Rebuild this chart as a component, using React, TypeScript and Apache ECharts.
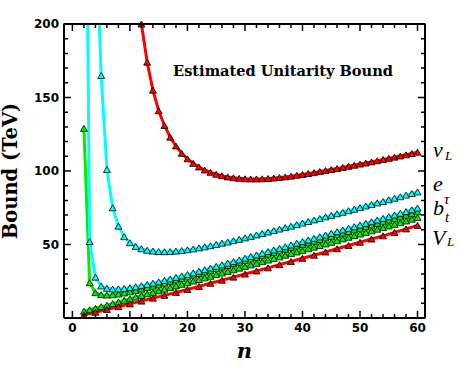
import React, { useEffect, useRef } from "react";
import * as echarts from "echarts";

// ---- data ----
const nuL_n0 = 12;
const nuL = [200, 174, 155, 141, 131, 123, 117, 112, 108.3, 105.2, 102.7, 100.7, 99.1, 97.8, 96.8, 96.0, 95.4, 95.0, 94.7, 94.6, 94.6, 94.7, 94.9, 95.2, 95.6, 96.0, 96.5, 97.1, 97.7, 98.3, 98.9, 99.6, 100.3, 101.0, 101.7, 102.4, 103.2, 103.9, 104.7, 105.4, 106.2, 107.0, 107.8, 108.6, 109.4, 110.2, 111.0, 111.9, 112.8];

const e_lead = [4.68, 200];
const e_n0 = 5;
const eVals = [165, 101, 75, 62.5, 55.3, 51.2, 48.7, 47.1, 46.1, 45.5, 45.2, 45.1, 45.2, 45.5, 45.9, 46.4, 47.0, 47.7, 48.4, 49.2, 50.0, 50.9, 51.7, 52.6, 53.5, 54.5, 55.5, 56.5, 57.5, 58.5, 59.5, 60.5, 61.5, 62.5, 63.5, 64.6, 65.6, 66.7, 67.7, 68.8, 69.8, 70.9, 71.9, 73.0, 74.0, 75.1, 76.2, 77.2, 78.3, 79.3, 80.4, 81.5, 82.5, 83.6, 84.7, 85.8];

const cyanLow_lead = [2.66, 200];
const cyanLow_n0 = 3;
const cyanLow = [52.0, 27.8, 21.8, 20.2, 19.7, 19.8, 20.1, 20.6, 21.3, 22.0, 22.8, 23.7, 24.6, 25.6, 26.6, 27.6, 28.6, 29.6, 30.7, 31.8, 32.9, 34.0, 35.1, 36.2, 37.3, 38.4, 39.5, 40.7, 41.8, 42.9, 44.0, 45.2, 46.3, 47.4, 48.5, 49.7, 50.8, 52.0, 53.1, 54.2, 55.3, 56.5, 57.6, 58.7, 59.9, 61.0, 62.1, 63.3, 64.4, 65.5, 66.7, 67.8, 68.9, 70.1, 71.2, 72.4, 73.6, 74.8];

const greenUp_n0 = 2;
const greenUp = [129, 24.0, 17.2, 15.9, 15.6, 15.8, 16.3, 17.0, 17.8, 18.7, 19.6, 20.6, 21.6, 22.6, 23.7, 24.7, 25.8, 26.9, 28.0, 29.1, 30.2, 31.3, 32.4, 33.5, 34.6, 35.7, 36.8, 37.9, 39.0, 40.1, 41.2, 42.3, 43.4, 44.5, 45.6, 46.7, 47.8, 48.9, 50.0, 51.1, 52.2, 53.3, 54.4, 55.5, 56.6, 57.7, 58.8, 59.9, 61.0, 62.1, 63.2, 64.3, 65.4, 66.5, 67.6, 68.8, 69.9, 71.0, 72.2];

const greenLow_n0 = 2;
const greenLow = [4.6, 5.6, 6.6, 7.7, 8.7, 9.8, 10.9, 12.0, 13.1, 14.2, 15.3, 16.4, 17.4, 18.5, 19.6, 20.7, 21.8, 22.9, 24.0, 25.1, 26.2, 27.3, 28.4, 29.5, 30.6, 31.7, 32.8, 33.9, 35.0, 36.1, 37.2, 38.3, 39.4, 40.5, 41.6, 42.7, 43.8, 44.9, 46.0, 47.1, 48.2, 49.3, 50.4, 51.5, 52.6, 53.8, 54.9, 56.0, 57.1, 58.2, 59.3, 60.4, 61.5, 62.6, 63.7, 64.9, 66.0, 67.2, 68.4];

const redLow_n = [2, 4, 6, 8, 10, 12, 14, 16, 18, 20, 22, 24, 26, 28, 30, 32, 34, 36, 38, 40, 42, 44, 46, 48, 50, 52, 54, 56, 58, 60];
const redLow = [2.0, 3.9, 5.8, 7.7, 9.6, 11.5, 13.5, 15.4, 17.4, 19.4, 21.5, 23.6, 25.7, 27.8, 29.9, 32.0, 34.1, 36.3, 38.4, 40.6, 42.7, 44.9, 47.1, 49.3, 51.5, 53.7, 55.9, 58.2, 60.6, 63.0];

// axes
const X_MIN = -1.46;
const X_MAX = 61.3;
const Y_MIN = 0;
const Y_MAX = 200;
const xLabels = [0, 10, 20, 30, 40, 50, 60];
const yLabels = [50, 100, 150, 200];
const xMajorTicks = [0, 10, 20, 30, 40, 50, 60];
const xMinorTicks = [2, 4, 6, 8, 12, 14, 16, 18, 22, 24, 26, 28, 32, 34, 36, 38, 42, 44, 46, 48, 52, 54, 56, 58];
const yMajorTicks = [50, 100, 150];
const yMinorTicks = [10, 20, 30, 40, 60, 70, 80, 90, 110, 120, 130, 140, 160, 170, 180, 190];

function seq(n0: number, vals: number[]) {
  return vals.map((v, i) => [n0 + i, v]);
}

const G_LEFT = 64;
const G_RIGHT = 38;
const G_TOP = 24;
const G_BOTTOM = 53;
const W = 463;
const H = 371;

export default function App() {
  const ref = useRef<HTMLDivElement>(null);
  useEffect(() => {
    if (!ref.current) return;
    const chart = echarts.init(ref.current, undefined, { renderer: "svg" });

    const tickFont = { fontFamily: "DejaVu Sans", fontWeight: "bold" as const, fontSize: 12, color: "#000" };
    const xPerPx = (X_MAX - X_MIN) / (W - G_LEFT - G_RIGHT);
    const yPerPx = (Y_MAX - Y_MIN) / (H - G_TOP - G_BOTTOM);
    const MAJOR = 7;
    const MINOR = 4;

    const mkSeries = (data: any[], color: string) => ({
      type: "line",
      data,
      symbol: "triangle",
      symbolSize: [7, 6],
      showAllSymbol: true,
      lineStyle: { color, width: 3 },
      itemStyle: { color, borderColor: "#000", borderWidth: 0.8 },
      emphasis: { disabled: true },
      clip: true,
      z: 3,
    });
    const lead = (p: number[]) => ({ value: p, symbol: "none" });

    // frame + inward ticks on four sides, as broken line segments on the axes' scales
    const BRK = ["-", "-"];
    const frameData: any[] = [[X_MIN, Y_MIN], [X_MAX, Y_MIN], [X_MAX, Y_MAX], [X_MIN, Y_MAX], [X_MIN, Y_MIN]];
    const tickData: any[] = [];
    const addX = (v: number, len: number) => {
      tickData.push([v, Y_MIN], [v, Y_MIN + len * yPerPx], BRK);
      tickData.push([v, Y_MAX], [v, Y_MAX - len * yPerPx], BRK);
    };
    const addY = (v: number, len: number) => {
      tickData.push([X_MIN, v], [X_MIN + len * xPerPx, v], BRK);
      tickData.push([X_MAX, v], [X_MAX - len * xPerPx, v], BRK);
    };
    xMajorTicks.forEach((v) => addX(v, MAJOR));
    xMinorTicks.forEach((v) => addX(v, MINOR));
    yMajorTicks.forEach((v) => addY(v, MAJOR));
    yMinorTicks.forEach((v) => addY(v, MINOR));
    const frameSeries = {
      type: "line",
      data: frameData,
      symbol: "none",
      clip: false,
      silent: true,
      z: 6,
      lineStyle: { color: "#000", width: 2 },
    };
    const tickSeries = {
      type: "line",
      data: tickData,
      symbol: "none",
      connectNulls: false,
      clip: false,
      silent: true,
      z: 6,
      lineStyle: { color: "#000", width: 1.5 },
    };

    const labelFont = { fontFamily: "Liberation Serif", fontStyle: "italic", fill: "#000" };
    const txt = (x: number, y: number, text: string, size: number) => ({
      type: "text",
      x,
      y,
      style: { text, fontSize: size, ...labelFont, align: "left", verticalAlign: "middle" },
    });

    chart.setOption({
      animation: false,
      backgroundColor: "#fff",
      grid: {
        left: G_LEFT,
        right: G_RIGHT,
        top: G_TOP,
        bottom: G_BOTTOM,
        containLabel: false,
        outerBoundsMode: "none",
        show: false,
      },
      xAxis: {
        type: "value",
        min: X_MIN,
        max: X_MAX,
        axisLine: { show: false },
        axisTick: { show: false },
        axisLabel: { show: true, customValues: xLabels, margin: 4, ...tickFont },
        splitLine: { show: false },
        name: "n",
        nameLocation: "middle",
        nameGap: 22,
        nameTextStyle: { fontFamily: "DejaVu Serif", fontStyle: "italic", fontWeight: "bold", fontSize: 21, color: "#000" },
      },
      yAxis: {
        type: "value",
        min: Y_MIN,
        max: Y_MAX,
        axisLine: { show: false },
        axisTick: { show: false },
        axisLabel: { show: true, customValues: yLabels, margin: 5, ...tickFont },
        splitLine: { show: false },
        name: "Bound (TeV)",
        nameLocation: "middle",
        nameGap: 44,
        nameRotate: 90,
        nameTextStyle: { fontFamily: "DejaVu Serif", fontWeight: "bold", fontSize: 19.5, color: "#000" },
      },
      series: [
        mkSeries(seq(nuL_n0, nuL), "#ff0000"),
        mkSeries([lead(e_lead), ...seq(e_n0, eVals)], "#00ffff"),
        mkSeries(seq(greenLow_n0, greenLow), "#00ee00"),
        mkSeries(seq(greenUp_n0, greenUp), "#00ee00"),
        mkSeries([lead(cyanLow_lead), ...seq(cyanLow_n0, cyanLow)], "#00ffff"),
        mkSeries(redLow_n.map((n, i) => [n, redLow[i]]), "#ff0000"),
        frameSeries,
        tickSeries,
      ],
      graphic: [
        { type: "text", x: 283, y: 70, style: { text: "Estimated Unitarity Bound", fontFamily: "DejaVu Serif", fontWeight: "bold", fontSize: 14.6, fill: "#000", align: "center", verticalAlign: "middle" } },
        txt(433, 149, "ν", 22),
        txt(445, 155, "L", 13),
        txt(433, 183, "e", 22),
        txt(433, 207, "b", 22),
        txt(444, 199, "τ", 15),
        txt(445, 217, "t", 15),
        txt(432, 237, "V", 22),
        txt(447, 241, "L", 13),
      ],
    });
    return () => chart.dispose();
  }, []);
  return <div ref={ref} style={{ position: "fixed", left: 0, top: 0, width: W, height: H, background: "#fff" }} />;
}
